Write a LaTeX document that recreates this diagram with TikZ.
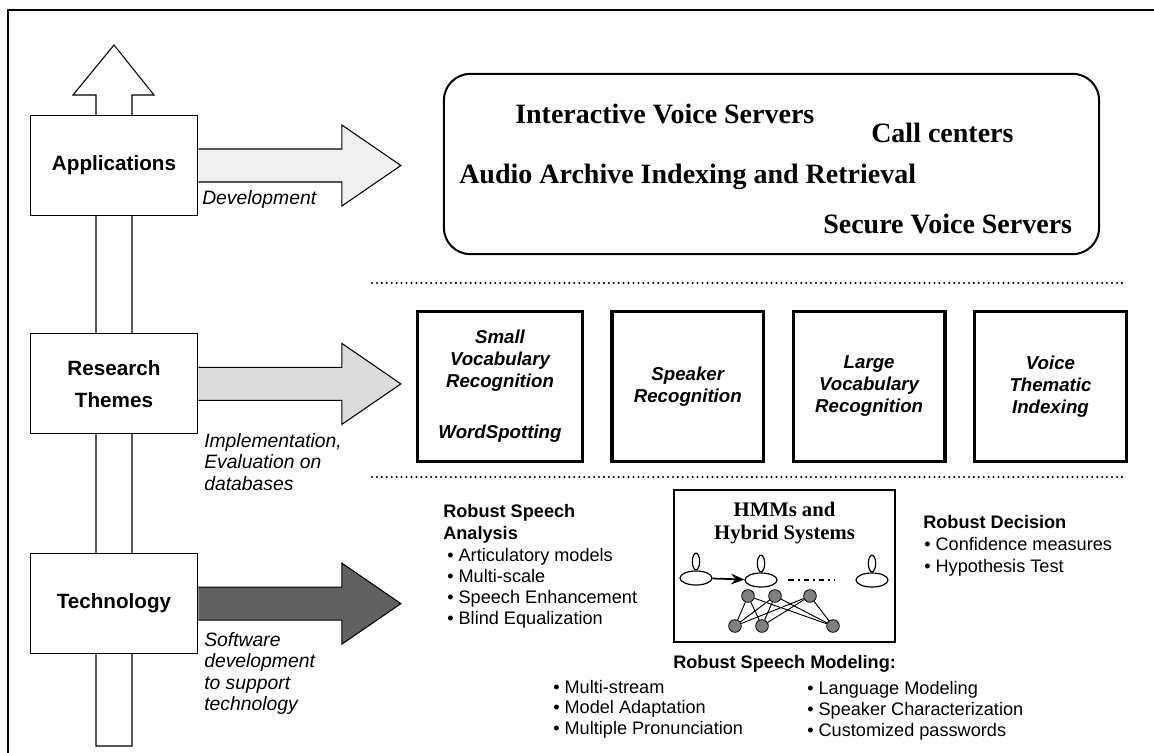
\documentclass[tikz,border=0pt]{standalone}
\usepackage{fontspec}
\setmainfont{Liberation Serif}
\setsansfont{Liberation Sans}
\usetikzlibrary{positioning, arrows.meta, shapes.geometric}
\tikzset{
	node distance=88pt and 19.7pt,
	level/.style= {
		rectangle,
		draw,
		line width=0.8pt,
		fill=white,
		align=center,
		minimum width=125pt,
		minimum height=75pt,
		font=\sffamily\bfseries\fontsize{15.5}{24}\selectfont
	},
	theme/.style= {
		rectangle,
		draw,
		line width=2.5pt,
		align=center,
		minimum width=113.8pt,
		minimum height=112.3pt,
		font=\sffamily\bfseries\itshape\fontsize{14}{16.5}\selectfont
	},
	note/.style= {
		inner sep=0pt,
		align=left,
		font=\sffamily\itshape\fontsize{14.5}{16.1}\selectfont
	},
	usage/.style= {
		inner sep=0pt,
		anchor=base west,
		font=\bfseries\fontsize{21}{25}\selectfont
	},
	item/.style= {
		inner sep=0pt,
		anchor=base west,
		font=\sffamily\fontsize{13.6}{16}\selectfont
	},
	heading/.style= {
		item,
		font=\sffamily\bfseries\fontsize{13.6}{16}\selectfont
	},
	separator/.style= {
		line width=1.7pt,
		dash pattern=on 0pt off 3.7pt,
		line cap=round
	},
	state/.style= {
		ellipse,
		draw,
		line width=0.9pt,
		minimum width=24pt,
		minimum height=10.5pt,
		inner sep=0pt
	},
	selfloop/.style= {
		ellipse,
		draw,
		line width=0.9pt,
		minimum width=5.5pt,
		minimum height=12.5pt,
		inner sep=0pt
	},
	unit/.style= {
		circle,
		draw,
		fill=black!50,
		line width=0.6pt,
		minimum size=9.5pt,
		inner sep=0pt
	}
}

\begin{document}
\begin{tikzpicture}[x=0.75pt, y=-0.75pt]
		\useasboundingbox (0,0) rectangle (1154,753);
		\draw[line width=0.8pt] (8,753) -- (8,10) -- (1154,10);
		
		% upward arrow behind the three levels
		\draw[line width=0.8pt, fill=white] (96,746) -- (96,95) -- (73,95) -- (114,45) -- (154,95) -- (132,95) -- (132,746) -- cycle;
		
		\node (app)[level] at (114,165.5) {Applications};
		\node (res)[level, below=of app] {Research\\Themes};
		\node (tech)[level, below=89pt of res] {Technology};
		
		\foreach \lvl/\shade in {app/black!6, res/black!14, tech/black!62}
		{
			\draw[line width=0.8pt, fill=\shade] (\lvl.east) ++(0.6,16.5) -- ++(143.4,0) -- ++(0,24) -- ++(59,-40.5) -- ++(-59,-40.5) -- ++(0,24) -- ++(-143.4,0);
		}
		
		\node (devnote)[note, anchor=base west] at (202,204) {Development};
		\node (implnote)[note, anchor=north west] at (204,433) {Implementation,\\Evaluation on\\databases};
		\node (softnote)[note, anchor=north west] at (204,632) {Software\\development\\to support\\technology};
		
		% applications
		\node (appbox)[draw, line width=1.5pt, rounded corners=20pt, minimum width=491.5pt, minimum height=135.3pt] at (771.5,164) {};
		\node (ivs)[usage] at (515,123) {Interactive Voice Servers};
		\node (calls)[usage] at (871,142) {Call centers};
		\node (archive)[usage] at (459,183) {Audio Archive Indexing and Retrieval};
		\node (secure)[usage] at (823,233) {Secure Voice Servers};
		
		\draw[separator] (372,283) -- (1122,283);
		\draw[separator] (372,477) -- (1122,477);
		
		% research themes
		\node (small)[theme, minimum width=123.5pt] at (500,386.5) {Small\\Vocabulary\\Recognition\\[21.75pt]WordSpotting};
		\node (speaker)[theme, right=of small] {Speaker\\Recognition};
		\node (large)[theme, right=of speaker] {Large\\Vocabulary\\Recognition};
		\node (thematic)[theme, right=of large] {Voice\\Thematic\\Indexing};
		
		% technology
		\node (analysishead)[heading] at (443,517) {Robust Speech};
		\node (analysishead2)[heading] at (443,539) {Analysis};
		\foreach[count=\i from 0] \t in {Articulatory models, Multi-scale, Speech Enhancement, Blind Equalization}
		{
			\node (analysis\i)[item] at (447,{561+21.3*\i}) {• \t};
		}
		
		\node (hmmbox)[draw, line width=1.2pt, minimum width=166pt, minimum height=114.3pt] at (784.5,566) {};
		\node (hmmtitle)[inner sep=0pt, align=center, font=\bfseries\fontsize{15.5}{17.25}\selectfont] at (784.5,523) {HMMs and\\Hybrid Systems};
		\foreach \s/\x/\y in {1/696/578, 2/761/580, 3/872/580}
		{
			\node (s\s)[state] at (\x,\y) {};
			\node (loop\s)[selfloop, above=0pt of s\s] {};
		}
		\draw[line width=1.3pt, -{Stealth[length=10pt, width=8pt]}] (s1) -- (s2);
		\draw[line width=0.9pt, dash pattern=on 4pt off 3pt on 1.5pt off 3pt] ([xshift=8pt]s2.east) -- ([xshift=-15.75pt]s3.west);
		\foreach \n/\x in {1/748, 2/775, 3/810}
			\node (top\n)[unit] at (\x,596) {};
		\foreach \n/\x in {1/735, 2/762, 3/833}
			\node (bot\n)[unit] at (\x,626) {};
		\foreach \a in {1,2,3}
			\foreach \b in {1,2,3}
				\draw[line width=0.7pt] (top\a) -- (bot\b);
		
		\node (decisionhead)[heading] at (923,528) {Robust Decision};
		\foreach[count=\i from 0] \t in {Confidence measures, Hypothesis Test}
		{
			\node (decision\i)[item] at (924,{550+22*\i}) {• \t};
		}
		
		\node (modelinghead)[heading] at (673,668) {Robust Speech Modeling:};
		\foreach[count=\i from 0] \t in {Multi-stream, Model Adaptation, Multiple Pronunciation}
		{
			\node (modelingA\i)[item] at (553,{693+20.7*\i}) {• \t};
		}
		\foreach[count=\i from 0] \t in {Language Modeling, Speaker Characterization, Customized passwords}
		{
			\node (modelingB\i)[item] at (807,{694+21.3*\i}) {• \t};
		}
	\end{tikzpicture}
\end{document}
